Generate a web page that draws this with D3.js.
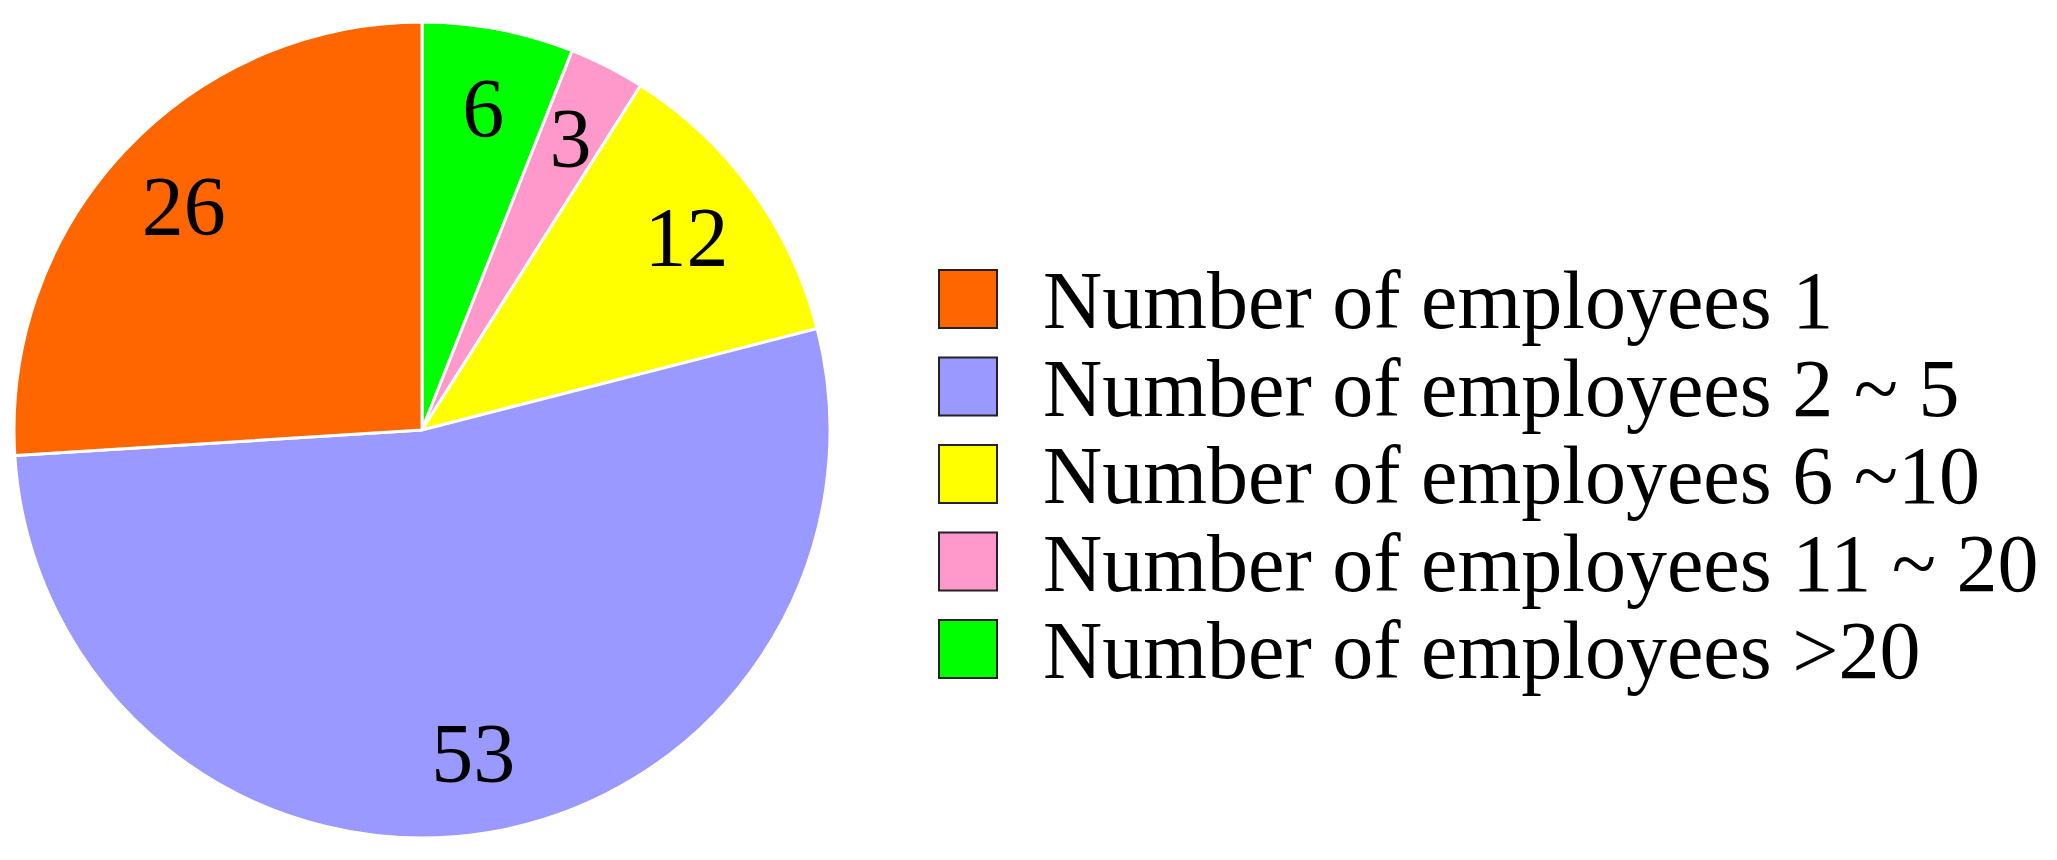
<!DOCTYPE html>
<html>
<head>
<meta charset="utf-8">
<script src="https://cdn.jsdelivr.net/npm/d3@7"></script>
<style>
  html, body { margin: 0; padding: 0; background: #fff; }
  svg { display: block; }
  text { font-family: "Liberation Serif", "Times New Roman", serif; fill: #000; }
</style>
</head>
<body>
<div id="chart"></div>
<script>
// categories in legend order
const categories = ["Number of employees 1", "Number of employees 2 ~ 5", "Number of employees 6 ~10", "Number of employees 11 ~ 20", "Number of employees >20"];
const values = [26, 53, 12, 3, 6];
const colors = ["#FF6600", "#9999FF", "#FFFF00", "#FF99CC", "#00FF00"];
// clockwise drawing order starting at 12 o'clock
const drawOrder = [4, 3, 2, 1, 0];

const width = 2057;
const height = 860;
const cx = 422, cy = 430;
const radius = 408;

const svg = d3.select("#chart").append("svg")
  .attr("width", width)
  .attr("height", height);

const slices = drawOrder.map(i => ({ name: categories[i], value: values[i], color: colors[i] }));

const pie = d3.pie()
  .value(d => d.value)
  .sort(null);

const arcs = pie(slices);

const arc = d3.arc().innerRadius(0).outerRadius(radius);
const labelArc = d3.arc().innerRadius(327).outerRadius(327);

const g = svg.append("g").attr("transform", `translate(${cx},${cy})`);

g.selectAll("path")
  .data(arcs)
  .enter().append("path")
  .attr("d", arc)
  .attr("fill", d => d.data.color)
  .attr("stroke", "#fff")
  .attr("stroke-width", 3)
  .attr("stroke-linejoin", "round");

g.selectAll("text.value")
  .data(arcs)
  .enter().append("text")
  .attr("class", "value")
  .attr("transform", d => `translate(${labelArc.centroid(d)})`)
  .attr("text-anchor", "middle")
  .attr("dy", "0.34em")
  .style("font-size", "84px")
  .text(d => d.data.value);

// legend
const rowY = d3.scalePoint()
  .domain(categories)
  .range([299, 649]);

const legend = svg.append("g").attr("class", "legend");

const row = legend.selectAll("g")
  .data(categories)
  .enter().append("g")
  .attr("transform", d => `translate(938,${rowY(d)})`);

row.append("rect")
  .attr("x", 1)
  .attr("y", -29)
  .attr("width", 58)
  .attr("height", 58)
  .attr("fill", (d, i) => colors[i])
  .attr("stroke", "#222")
  .attr("stroke-width", 2);

row.append("text")
  .attr("x", 105)
  .attr("y", 29)
  .style("font-size", "82px")
  .text(d => d);
</script>
</body>
</html>
